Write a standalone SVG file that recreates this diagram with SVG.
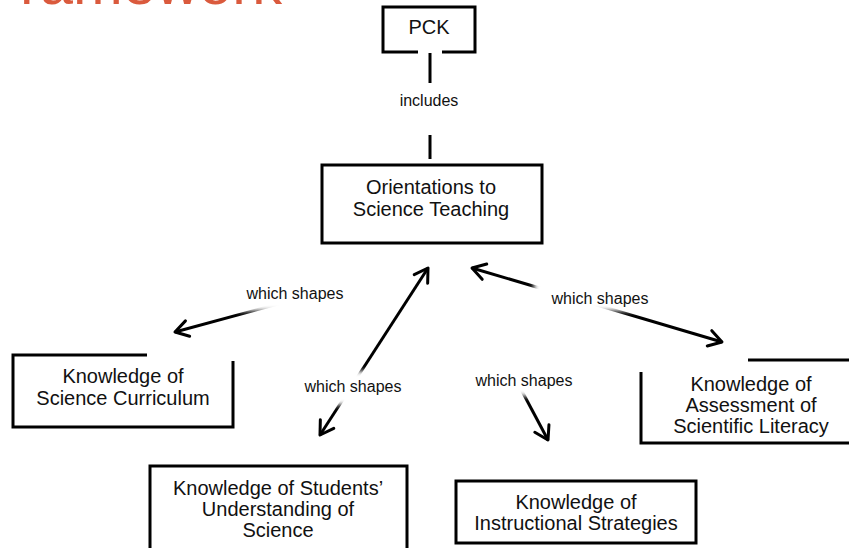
<svg xmlns="http://www.w3.org/2000/svg" width="849" height="548" viewBox="0 0 849 548">
  <style>
    .node { fill: none; stroke: #000; stroke-width: 3; stroke-linejoin: miter; }
    .ntext { font-family: "Liberation Sans", Arial, sans-serif; font-size: 20px; fill: #111; text-anchor: middle; }
    .ltext { font-family: "Liberation Sans", Arial, sans-serif; font-size: 16px; fill: #111; text-anchor: middle; }
    .edge { fill: none; stroke: #000; stroke-width: 3; }
    .lbg { fill: #fff; filter: url(#soft); }
  </style>
  <defs>
    <marker id="arrow" viewBox="-16 -11 20 22" refX="0" refY="0" markerWidth="20" markerHeight="22" markerUnits="userSpaceOnUse" orient="auto-start-reverse">
      <path d="M-13,-8 L0,0 L-13,8" fill="none" stroke="#000" stroke-width="3" stroke-linecap="round" stroke-linejoin="round"/>
    </marker>
    <filter id="soft" x="-20%" y="-60%" width="140%" height="220%">
      <feGaussianBlur stdDeviation="2.5"/>
    </filter>
  </defs>

  <!-- slide title, mostly above the visible area -->
  <text x="20" y="3.5" font-family="Liberation Sans, Arial, sans-serif" font-size="60" fill="#DA5A3D" textLength="262" lengthAdjust="spacingAndGlyphs">ramework</text>

  <!-- connectors -->
  <g id="connectors">
    <path class="edge" d="M430,53 V83 M430,135 V159"/>
    <path class="edge" d="M300,298 L175,332" marker-end="url(#arrow)"/>
    <path class="edge" d="M428,268 L320,435" marker-start="url(#arrow)" marker-end="url(#arrow)"/>
    <path class="edge" d="M472,268 L722,342" marker-start="url(#arrow)" marker-end="url(#arrow)"/>
    <path class="edge" d="M515,378 L548,440" marker-end="url(#arrow)"/>

    <text class="ltext" x="429" y="106">includes</text>

    <rect class="lbg" x="238" y="279" width="114" height="32"/>
    <text class="ltext" x="295" y="298.5">which shapes</text>

    <rect class="lbg" x="534" y="281" width="124" height="30"/>
    <text class="ltext" x="600" y="304">which shapes</text>

    <rect class="lbg" x="298" y="371" width="110" height="34"/>
    <text class="ltext" x="353" y="392">which shapes</text>

    <rect class="lbg" x="470" y="368" width="110" height="28"/>
    <text class="ltext" x="524" y="386">which shapes</text>
  </g>

  <g id="pck">
    <path class="node" d="M418,52 H383 V7 H475 V52 H442"/>
    <text class="ntext" x="429" y="34" font-size="22">PCK</text>
  </g>

  <g id="orientations">
    <rect class="node" x="322" y="165" width="220" height="78"/>
    <text class="ntext" x="431" y="194">Orientations to</text>
    <text class="ntext" x="431" y="216">Science Teaching</text>
  </g>

  <g id="curriculum">
    <path class="node" d="M147,355 H13 V427 H233 V361"/>
    <text class="ntext" x="123" y="383">Knowledge of</text>
    <text class="ntext" x="123" y="405">Science Curriculum</text>
  </g>

  <g id="students">
    <path class="node" d="M150,552 V466 H407 V552"/>
    <text class="ntext" x="278" y="495">Knowledge of Students’</text>
    <text class="ntext" x="278" y="516">Understanding of</text>
    <text class="ntext" x="278" y="537">Science</text>
  </g>

  <g id="instructional">
    <rect class="node" x="456" y="481" width="240" height="62"/>
    <text class="ntext" x="576" y="509">Knowledge of</text>
    <text class="ntext" x="576" y="530">Instructional Strategies</text>
  </g>

  <g id="assessment">
    <path class="node" d="M748,360 H852 M641,372 V443 H852"/>
    <text class="ntext" x="751" y="391">Knowledge of</text>
    <text class="ntext" x="751" y="412">Assessment of</text>
    <text class="ntext" x="751" y="433">Scientific Literacy</text>
  </g>
</svg>
